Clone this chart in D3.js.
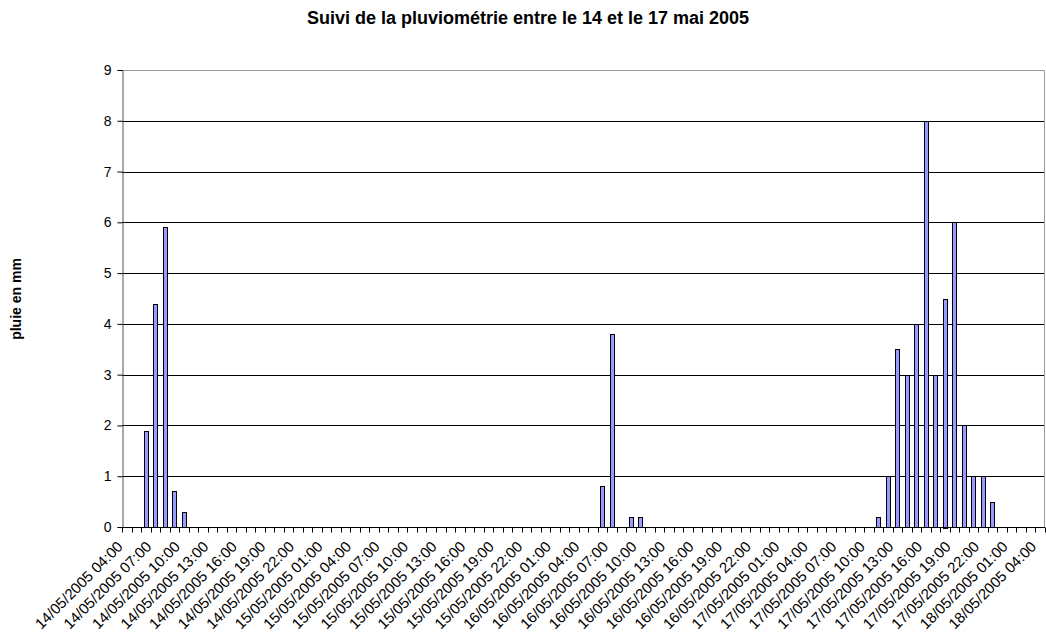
<!DOCTYPE html>
<html>
<head>
<meta charset="utf-8">
<script src="https://cdn.jsdelivr.net/npm/d3@7"></script>
<style>
  body { margin: 0; background: #fff; }
  text { font-family: "Liberation Sans", Arial, sans-serif; }
</style>
</head>
<body>
<div class="chart"></div>
<script>
// hourly rain readings, 14/05/2005 04:00 -> 18/05/2005 04:00
var startHour = new Date(2005, 4, 14, 4);
var endHour = new Date(2005, 4, 18, 5);
var categories = d3.timeHour.range(startHour, endHour).map(d3.timeFormat("%d/%m/%Y %H:%M"));

var rain = [
  0, 0, 1.9, 4.4, 5.9, 0.7, 0.3, 0, 0, 0,
  0, 0, 0, 0, 0, 0, 0, 0, 0, 0,
  0, 0, 0, 0, 0, 0, 0, 0, 0, 0,
  0, 0, 0, 0, 0, 0, 0, 0, 0, 0,
  0, 0, 0, 0, 0, 0, 0, 0, 0, 0,
  0.8, 3.8, 0, 0.2, 0.2, 0, 0, 0, 0, 0,
  0, 0, 0, 0, 0, 0, 0, 0, 0, 0,
  0, 0, 0, 0, 0, 0, 0, 0, 0, 0.2,
  1, 3.5, 3, 4, 8, 3, 4.5, 6, 2, 1,
  1, 0.5, 0, 0, 0, 0, 0
];

var yTicks = [0, 1, 2, 3, 4, 5, 6, 7, 8, 9];
var titleText = "Suivi de la pluviométrie entre le 14 et le 17 mai 2005";
var yLabel = "pluie en mm";

var svgWidth = 1046;
var svgHeight = 635;
var margin = { top: 70, right: 1, bottom: 108, left: 122 };
var width = svgWidth - margin.left - margin.right;
var height = svgHeight - margin.top - margin.bottom;

var svg = d3.select(".chart")
  .append("svg")
  .attr("width", svgWidth)
  .attr("height", svgHeight);

var chart = svg.append("g")
  .attr("transform", "translate(" + margin.left + "," + margin.top + ")");

var xScale = d3.scaleBand()
  .domain(categories)
  .range([0, width])
  .padding(0);

var yScale = d3.scaleLinear()
  .domain([0, 9])
  .range([height, 0]);

// gridlines
chart.append("g")
  .selectAll("line")
  .data(yTicks.filter(function(t) { return t > 0 && t < 9; }))
  .enter().append("line")
    .attr("x1", 0)
    .attr("x2", width)
    .attr("y1", function(d) { return Math.round(yScale(d)) + 0.5; })
    .attr("y2", function(d) { return Math.round(yScale(d)) + 0.5; })
    .attr("stroke", "#000")
    .attr("stroke-width", 1);

// plot border (top & right)
chart.append("path")
  .attr("d", "M0," + 0.5 + "H" + (width - 0.5) + "V" + height)
  .attr("fill", "none")
  .attr("stroke", "#999")
  .attr("stroke-width", 1);

// bars
var step = xScale.step();
var barWidth = step / 2.15;

chart.append("g")
  .selectAll("rect")
  .data(rain.map(function(v, i) { return { cat: categories[i], value: v }; }).filter(function(d) { return d.value > 0; }))
  .enter().append("rect")
    .attr("x", function(d) { return Math.round(xScale(d.cat) + (step - barWidth) / 2) + 0.5; })
    .attr("y", function(d) { return Math.round(yScale(d.value)) + 0.5; })
    .attr("width", Math.round(barWidth))
    .attr("height", function(d) { return Math.round(height - yScale(d.value)); })
    .attr("fill", "#9999FF")
    .attr("stroke", "#000")
    .attr("stroke-width", 1);

// y axis
var leftAxis = d3.axisLeft(yScale)
  .tickValues(yTicks)
  .tickSize(5)
  .tickPadding(6)
  .tickFormat(d3.format("d"));

var yAxisG = chart.append("g")
  .attr("transform", "translate(0.5,0)")
  .call(leftAxis);
yAxisG.select(".domain").attr("stroke", "#555");
yAxisG.selectAll(".tick line").attr("stroke", "#000");
yAxisG.selectAll("text")
  .attr("font-size", "14px")
  .attr("font-family", "Liberation Sans, Arial, sans-serif")
  .attr("fill", "#000");

// x axis: ticks on category boundaries
var xAxisG = chart.append("g")
  .attr("transform", "translate(0," + (height + 0.5) + ")");

xAxisG.append("line")
  .attr("x1", 0)
  .attr("x2", width)
  .attr("stroke", "#000");

xAxisG.selectAll(".xtick")
  .data(categories.concat(["end"]))
  .enter().append("line")
    .attr("class", "xtick")
    .attr("x1", function(d, i) { return Math.round(i * step) + 0.5; })
    .attr("x2", function(d, i) { return Math.round(i * step) + 0.5; })
    .attr("y1", 0)
    .attr("y2", 5)
    .attr("stroke", "#000");

xAxisG.selectAll(".xlabel")
  .data(categories.filter(function(d, i) { return i % 3 === 0; }))
  .enter().append("text")
    .attr("class", "xlabel")
    .attr("transform", function(d) {
      return "translate(" + (xScale(d) + step / 2 - 3) + ",20) rotate(-45)";
    })
    .attr("text-anchor", "end")
    .attr("font-size", "15px")
    .attr("fill", "#000")
    .text(function(d) { return d; });

// title
svg.append("text")
  .attr("x", 528)
  .attr("y", 24)
  .attr("text-anchor", "middle")
  .attr("font-size", "18px")
  .attr("font-weight", "bold")
  .text(titleText);

// y axis label
svg.append("text")
  .attr("transform", "translate(21,299) rotate(-90)")
  .attr("text-anchor", "middle")
  .attr("font-size", "14px")
  .attr("font-weight", "bold")
  .text(yLabel);
</script>
</body>
</html>
